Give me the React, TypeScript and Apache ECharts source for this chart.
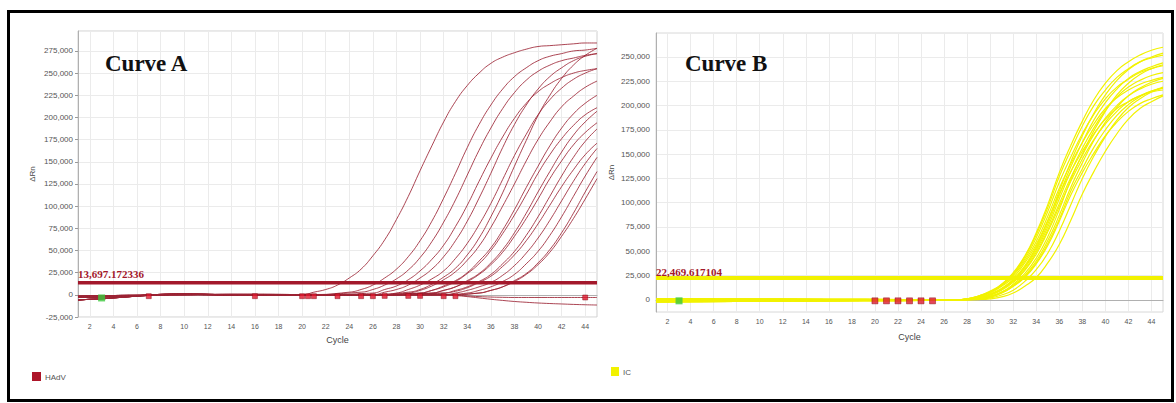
import React, { useEffect, useRef } from "react";
import * as echarts from "echarts";

// ---------- thresholds ----------
const THRESHOLD_A = 13697.172336;
const THRESHOLD_B = 22469.617104;
const THRESHOLD_A_LABEL = "13,697.172336";
const THRESHOLD_B_LABEL = "22,469.617104";
const CYCLE_MIN = 1;
const CYCLE_MAX = 45;

// ---------- Curve A (HAdV) ----------
const HADV_BASE_1 = [[1, -6000], [2, -5000], [3, -4500], [4, -3500], [5, -2500], [6, -1500], [8, 0], [10, 500], [14, -300], [20, 0], [26, 300], [32, 0]];
const HADV_BASE_2 = [[1, -3000], [2, -2800], [3, -2500], [4, -2000], [5, -1500], [6, -1000], [8, 500], [10, 1000], [14, 0], [20, -500], [26, 0], [32, -300]];
const HADV_BASE_3 = [[1, -1500], [2, -1200], [3, -1000], [4, -800], [5, -600], [6, -500], [8, -200], [10, 0], [14, 500], [20, 300], [26, -300], [32, 200]];

const HADV_01 = [[21, 3000], [22, 6000], [23, 11000], [24, 19000], [25, 29000], [26, 44000], [27, 62000], [28, 85000], [29, 111000], [30, 140000], [31, 168000], [32, 195000], [33, 218000], [34, 236000], [35, 250000], [36, 261000], [37, 268000], [38, 273000], [39, 277000], [40, 280000], [41, 281000], [42, 282000], [43, 283000], [44, 284000], [45, 284000]];
const HADV_02 = [[24, 3000], [25, 6000], [26, 11000], [27, 19000], [28, 29000], [29, 43000], [30, 61000], [31, 83000], [32, 109000], [33, 137000], [34, 166000], [35, 192000], [36, 214000], [37, 232000], [38, 246000], [39, 256000], [40, 264000], [41, 269000], [42, 272000], [43, 275000], [44, 276000], [45, 278000]];
const HADV_03 = [[25, 3000], [26, 6000], [27, 11000], [28, 18000], [29, 28000], [30, 42000], [31, 60000], [32, 82000], [33, 107000], [34, 135000], [35, 163000], [36, 188000], [37, 210000], [38, 228000], [39, 242000], [40, 252000], [41, 259000], [42, 264000], [43, 267000], [44, 270000], [45, 272000]];
const HADV_04 = [[26, 2000], [27, 6000], [28, 10000], [29, 17000], [30, 27000], [31, 40000], [32, 56000], [33, 77000], [34, 101000], [35, 128000], [36, 154000], [37, 178000], [38, 199000], [39, 216000], [40, 229000], [41, 238000], [42, 245000], [43, 250000], [44, 253000], [45, 255000]];
const HADV_05 = [[27, 3000], [28, 6000], [29, 11000], [30, 19000], [31, 29000], [32, 43000], [33, 61000], [34, 83000], [35, 109000], [36, 137000], [37, 166000], [38, 192000], [39, 214000], [40, 232000], [41, 246000], [42, 256000], [43, 264000], [44, 269000], [45, 272000]];
const HADV_06 = [[28, 2000], [29, 6000], [30, 11000], [31, 18000], [32, 27000], [33, 41000], [34, 58000], [35, 79000], [36, 103000], [37, 130000], [38, 157000], [39, 181000], [40, 203000], [41, 220000], [42, 233000], [43, 243000], [44, 250000], [45, 255000]];
const HADV_07 = [[29, 3000], [30, 6000], [31, 12000], [32, 20000], [33, 30000], [34, 45000], [35, 64000], [36, 88000], [37, 115000], [38, 145000], [39, 174000], [40, 202000], [41, 225000], [42, 244000], [43, 259000], [44, 270000], [45, 278000]];
const HADV_08 = [[29, 2000], [30, 5000], [31, 10000], [32, 17000], [33, 26000], [34, 39000], [35, 55000], [36, 76000], [37, 100000], [38, 125000], [39, 151000], [40, 175000], [41, 195000], [42, 212000], [43, 224000], [44, 234000], [45, 241000]];
const HADV_09 = [[30, 2000], [31, 5000], [32, 10000], [33, 16000], [34, 25000], [35, 38000], [36, 53000], [37, 73000], [38, 96000], [39, 121000], [40, 145000], [41, 168000], [42, 188000], [43, 204000], [44, 216000], [45, 225000]];
const HADV_10 = [[30, 2000], [31, 5000], [32, 9000], [33, 15000], [34, 24000], [35, 35000], [36, 50000], [37, 69000], [38, 90000], [39, 113000], [40, 137000], [41, 158000], [42, 176000], [43, 191000], [44, 203000], [45, 211000]];
const HADV_11 = [[31, 2000], [32, 5000], [33, 9000], [34, 16000], [35, 24000], [36, 36000], [37, 51000], [38, 70000], [39, 92000], [40, 116000], [41, 139000], [42, 161000], [43, 180000], [44, 195000], [45, 207000]];
const HADV_12 = [[31, 2000], [32, 5000], [33, 9000], [34, 15000], [35, 23000], [36, 34000], [37, 48000], [38, 66000], [39, 86000], [40, 108000], [41, 131000], [42, 151000], [43, 169000], [44, 183000], [45, 194000]];
const HADV_13 = [[32, 2000], [33, 5000], [34, 9000], [35, 15000], [36, 23000], [37, 35000], [38, 49000], [39, 67000], [40, 88000], [41, 111000], [42, 134000], [43, 155000], [44, 173000], [45, 187000]];
const HADV_14 = [[32, 2000], [33, 4000], [34, 8000], [35, 14000], [36, 21000], [37, 32000], [38, 45000], [39, 61000], [40, 80000], [41, 101000], [42, 122000], [43, 141000], [44, 158000], [45, 171000]];
const HADV_15 = [[33, 2000], [34, 5000], [35, 9000], [36, 14000], [37, 22000], [38, 33000], [39, 47000], [40, 64000], [41, 84000], [42, 106000], [43, 128000], [44, 148000], [45, 165000]];
const HADV_16 = [[34, 2000], [35, 5000], [36, 9000], [37, 15000], [38, 23000], [39, 35000], [40, 49000], [41, 67000], [42, 88000], [43, 111000], [44, 134000], [45, 155000]];
const HADV_17 = [[35, 2000], [36, 5000], [37, 9000], [38, 16000], [39, 24000], [40, 36000], [41, 51000], [42, 70000], [43, 92000], [44, 116000], [45, 139000]];
const HADV_18 = [[35, 2000], [36, 5000], [37, 9000], [38, 15000], [39, 23000], [40, 34000], [41, 48000], [42, 66000], [43, 86000], [44, 108000], [45, 131000]];
const HADV_NEG_1 = [[33, -300], [34, -1200], [35, -2000], [36, -2500], [37, -2800], [38, -3000], [40, -3000], [42, -3000], [45, -3000]];
const HADV_NEG_2 = [[33, -800], [34, -2000], [35, -3500], [36, -5000], [37, -6300], [38, -7500], [39, -8400], [40, -9200], [41, -9800], [42, -10300], [43, -10800], [44, -11200], [45, -11500]];

const HADV_CURVES = [HADV_01, HADV_02, HADV_03, HADV_04, HADV_05, HADV_06, HADV_07, HADV_08, HADV_09, HADV_10, HADV_11, HADV_12, HADV_13, HADV_14, HADV_15, HADV_16, HADV_17, HADV_18, HADV_NEG_1, HADV_NEG_2];
const HADV_BASES = [HADV_BASE_1, HADV_BASE_2, HADV_BASE_3];

const HADV_CT_MARKERS = [[7, -1500], [16, -1500], [20, -1500], [20.5, -1500], [21, -1500], [23, -1500], [25, -1500], [26, -1500], [27, -1200], [29, -1200], [30, -1200], [32, -1500], [33, -1500], [44, -3000]];
const HADV_START_MARKER = [[3, -3500]];

// ---------- Curve B (IC) ----------
const IC_BASE_1 = [[1, -500], [8, -300], [16, 0], [22, 0], [26, 0], [27, 0]];
const IC_BASE_2 = [[1, -2000], [8, -1500], [16, -1000], [22, -800], [26, -400], [27, -300]];
const IC_BASE_3 = [[1, 1000], [8, 800], [16, 500], [22, 300], [26, 200], [27, 200]];

const IC_01 = [[28, 1000], [29, 4000], [30, 9000], [31, 16000], [32, 28000], [33, 45000], [34, 69000], [35, 98000], [36, 131000], [37, 159000], [38, 184000], [39, 206000], [40, 223000], [41, 236000], [42, 245000], [43, 252000], [44, 257000], [45, 260000]];
const IC_02 = [[28, 1000], [29, 4000], [30, 8000], [31, 16000], [32, 27000], [33, 44000], [34, 67000], [35, 95000], [36, 127000], [37, 154000], [38, 179000], [39, 200000], [40, 216000], [41, 229000], [42, 238000], [43, 245000], [44, 249000], [45, 252000]];
const IC_03 = [[28, 500], [29, 2000], [30, 6000], [31, 12000], [32, 21000], [33, 35000], [34, 55000], [35, 81000], [36, 112000], [37, 142000], [38, 169000], [39, 192000], [40, 211000], [41, 226000], [42, 237000], [43, 245000], [44, 250000], [45, 254000]];
const IC_04 = [[28, 1000], [29, 4000], [30, 8000], [31, 15000], [32, 26000], [33, 42000], [34, 64000], [35, 91000], [36, 121000], [37, 147000], [38, 171000], [39, 191000], [40, 207000], [41, 219000], [42, 227000], [43, 234000], [44, 238000], [45, 241000]];
const IC_05 = [[28, 500], [29, 2000], [30, 6000], [31, 11000], [32, 20000], [33, 34000], [34, 53000], [35, 78000], [36, 108000], [37, 137000], [38, 162000], [39, 185000], [40, 203000], [41, 217000], [42, 228000], [43, 235000], [44, 240000], [45, 244000]];
const IC_06 = [[28, 500], [29, 2000], [30, 5000], [31, 11000], [32, 20000], [33, 33000], [34, 51000], [35, 75000], [36, 104000], [37, 132000], [38, 156000], [39, 177000], [40, 195000], [41, 209000], [42, 219000], [43, 226000], [44, 231000], [45, 234000]];
const IC_07 = [[28, 300], [29, 1000], [30, 4000], [31, 8000], [32, 16000], [33, 27000], [34, 43000], [35, 65000], [36, 93000], [37, 124000], [38, 150000], [39, 174000], [40, 194000], [41, 211000], [42, 223000], [43, 232000], [44, 238000], [45, 242000]];
const IC_08 = [[28, 1000], [29, 3000], [30, 8000], [31, 15000], [32, 25000], [33, 40000], [34, 60000], [35, 86000], [36, 115000], [37, 140000], [38, 162000], [39, 181000], [40, 197000], [41, 208000], [42, 216000], [43, 222000], [44, 226000], [45, 229000]];
const IC_09 = [[28, 500], [29, 2000], [30, 5000], [31, 11000], [32, 19000], [33, 31000], [34, 49000], [35, 72000], [36, 99000], [37, 126000], [38, 149000], [39, 170000], [40, 187000], [41, 200000], [42, 210000], [43, 217000], [44, 222000], [45, 225000]];
const IC_10 = [[28, 300], [29, 1000], [30, 3000], [31, 8000], [32, 15000], [33, 25000], [34, 40000], [35, 61000], [36, 87000], [37, 116000], [38, 141000], [39, 164000], [40, 183000], [41, 198000], [42, 210000], [43, 218000], [44, 224000], [45, 228000]];
const IC_11 = [[28, 500], [29, 2000], [30, 5000], [31, 10000], [32, 18000], [33, 30000], [34, 47000], [35, 70000], [36, 96000], [37, 122000], [38, 145000], [39, 165000], [40, 181000], [41, 194000], [42, 204000], [43, 210000], [44, 215000], [45, 218000]];
const IC_12 = [[28, 300], [29, 1000], [30, 3000], [31, 7000], [32, 14000], [33, 24000], [34, 38000], [35, 58000], [36, 83000], [37, 112000], [38, 135000], [39, 157000], [40, 175000], [41, 190000], [42, 201000], [43, 209000], [44, 215000], [45, 218000]];
const IC_13 = [[28, 1000], [29, 3000], [30, 7000], [31, 14000], [32, 23000], [33, 38000], [34, 57000], [35, 82000], [36, 109000], [37, 132000], [38, 153000], [39, 171000], [40, 186000], [41, 197000], [42, 204000], [43, 210000], [44, 214000], [45, 216000]];
const IC_14 = [[28, 300], [29, 1000], [30, 3000], [31, 7000], [32, 14000], [33, 23000], [34, 37000], [35, 56000], [36, 81000], [37, 108000], [38, 131000], [39, 151000], [40, 169000], [41, 183000], [42, 194000], [43, 202000], [44, 207000], [45, 211000]];
const IC_15 = [[29, 500], [30, 2000], [31, 5000], [32, 10000], [33, 19000], [34, 31000], [35, 48000], [36, 71000], [37, 98000], [38, 125000], [39, 148000], [40, 168000], [41, 185000], [42, 198000], [43, 207000], [44, 214000], [45, 219000]];
const IC_16 = [[29, 300], [30, 1000], [31, 3000], [32, 7000], [33, 14000], [34, 23000], [35, 38000], [36, 57000], [37, 82000], [38, 109000], [39, 132000], [40, 153000], [41, 171000], [42, 186000], [43, 197000], [44, 204000], [45, 210000]];

const IC_CURVES = [IC_01, IC_02, IC_03, IC_04, IC_05, IC_06, IC_07, IC_08, IC_09, IC_10, IC_11, IC_12, IC_13, IC_14, IC_15, IC_16];
const IC_BASES = [IC_BASE_1, IC_BASE_2, IC_BASE_3];

const IC_CT_MARKERS = [[20, -1000], [21, -1000], [22, -1000], [23, -1000], [24, -1000], [25, -1000]];
const IC_START_MARKER = [[3, -1000]];

// ---------- styling ----------
const HADV_COLOR = "#9c2435";
const HADV_LEGEND = "#ad1529";
const IC_COLOR = "#f2f200";
const LABEL_COLOR = "#555";
const SANS = "'Liberation Sans', Arial, sans-serif";
const SERIF = "'Liberation Serif', 'Times New Roman', serif";

function withBase(base: number[][], rise: number[][]) {
  const first = rise[0][0];
  return base.filter((p) => p[0] < first).concat(rise);
}

const fmt = (v: number) => v.toLocaleString("en-US");

function buildOption() {
  const series: any[] = [];
  HADV_CURVES.forEach((c, i) => {
    series.push({
      type: "line",
      name: "HAdV",
      xAxisIndex: 0,
      yAxisIndex: 0,
      data: withBase(HADV_BASES[i % 3], c),
      showSymbol: false,
      smooth: 0.5,
      silent: true,
      lineStyle: { color: HADV_COLOR, width: 1, opacity: 0.85 },
      itemStyle: { color: HADV_LEGEND },
    });
  });
  series.push({
    type: "line",
    name: "thresholdA",
    xAxisIndex: 0,
    yAxisIndex: 0,
    data: [[CYCLE_MIN, THRESHOLD_A], [CYCLE_MAX, THRESHOLD_A]],
    showSymbol: false,
    silent: true,
    lineStyle: { color: "#a3182b", width: 3.5 },
    z: 5,
  });
  series.push({
    type: "scatter",
    name: "ctA",
    xAxisIndex: 0,
    yAxisIndex: 0,
    data: HADV_CT_MARKERS,
    symbol: "rect",
    symbolSize: 5,
    silent: true,
    itemStyle: { color: "#e0182e", borderColor: "#8a0c18", borderWidth: 0.6 },
    z: 6,
  });
  series.push({
    type: "scatter",
    name: "startA",
    xAxisIndex: 0,
    yAxisIndex: 0,
    data: HADV_START_MARKER,
    symbol: "rect",
    symbolSize: 7,
    silent: true,
    itemStyle: { color: "#3cc83c" },
    z: 6,
  });

  IC_CURVES.forEach((c, i) => {
    series.push({
      type: "line",
      name: "IC",
      xAxisIndex: 1,
      yAxisIndex: 1,
      data: withBase(IC_BASES[i % 3], c),
      showSymbol: false,
      smooth: 0.5,
      silent: true,
      lineStyle: { color: IC_COLOR, width: 1.2 },
      itemStyle: { color: IC_COLOR },
    });
  });
  series.push({
    type: "line",
    name: "thresholdB",
    xAxisIndex: 1,
    yAxisIndex: 1,
    data: [[CYCLE_MIN, THRESHOLD_B], [CYCLE_MAX, THRESHOLD_B]],
    showSymbol: false,
    silent: true,
    lineStyle: { color: IC_COLOR, width: 4 },
    z: 5,
  });
  series.push({
    type: "scatter",
    name: "ctB",
    xAxisIndex: 1,
    yAxisIndex: 1,
    data: IC_CT_MARKERS,
    symbol: "rect",
    symbolSize: 6,
    silent: true,
    itemStyle: { color: "#e0182e", borderColor: "#8a0c18", borderWidth: 0.6 },
    z: 6,
  });
  series.push({
    type: "scatter",
    name: "startB",
    xAxisIndex: 1,
    yAxisIndex: 1,
    data: IC_START_MARKER,
    symbol: "rect",
    symbolSize: 7,
    silent: true,
    itemStyle: { color: "#3cc83c" },
    z: 6,
  });

  const xAxisCommon = {
    type: "value",
    min: CYCLE_MIN,
    max: CYCLE_MAX,
    interval: 1,
    name: "Cycle",
    nameLocation: "middle",
    nameGap: 18,
    nameTextStyle: { fontSize: 9, color: "#444", fontFamily: SANS },
    axisLine: { lineStyle: { color: "#b0b0b0" } },
    axisTick: { show: false },
    axisLabel: {
      fontSize: 7,
      color: LABEL_COLOR,
      fontFamily: SANS,
      margin: 6,
      formatter: (v: number) => (v % 2 === 0 ? String(v) : ""),
    },
    splitLine: { show: true, lineStyle: { color: ["rgba(0,0,0,0)", "#ebebeb"], width: 1 } },
  };

  return {
    animation: false,
    textStyle: { fontFamily: SANS },
    grid: [
      { left: 78, top: 31, width: 519, height: 286, show: true, borderColor: "#d0d0d0", borderWidth: 1 },
      { left: 656, top: 33, width: 507, height: 279, show: true, borderColor: "#d8d8d8", borderWidth: 1 },
    ],
    xAxis: [
      { ...xAxisCommon, gridIndex: 0 },
      { ...xAxisCommon, gridIndex: 1, nameGap: 20 },
    ],
    yAxis: [
      {
        type: "value",
        gridIndex: 0,
        min: -25000,
        max: 297500,
        interval: 25000,
        name: "ΔRn",
        nameLocation: "middle",
        nameGap: 42,
        nameTextStyle: { fontSize: 8, color: "#444", fontFamily: SANS },
        axisLine: { show: true, lineStyle: { color: "#b0b0b0" } },
        axisTick: { show: true, length: 3, lineStyle: { color: "#999" } },
        axisLabel: { fontSize: 8, color: LABEL_COLOR, fontFamily: SANS, margin: 5, showMaxLabel: false, formatter: fmt },
        splitLine: { show: true, lineStyle: { color: "#ebebeb", width: 1 } },
      },
      {
        type: "value",
        gridIndex: 1,
        min: -12500,
        max: 274700,
        interval: 12500,
        name: "ΔRn",
        nameLocation: "middle",
        nameGap: 41,
        nameTextStyle: { fontSize: 8, color: "#444", fontFamily: SANS },
        axisLine: { show: true, lineStyle: { color: "#b0b0b0" } },
        axisTick: { show: false },
        axisLabel: {
          fontSize: 8,
          color: LABEL_COLOR,
          fontFamily: SANS,
          margin: 6,
          showMaxLabel: false,
          showMinLabel: false,
          formatter: (v: number) => (v % 25000 === 0 ? fmt(v) : ""),
        },
        splitLine: { show: true, lineStyle: { color: ["rgba(0,0,0,0)", "#ebebeb"], width: 1 } },
      },
    ],
    series,
    graphic: [
      // outer frame
      { type: "rect", shape: { x: 8.5, y: 11.5, width: 1164, height: 389 }, style: { fill: "none", stroke: "#000", lineWidth: 3 }, silent: true, z: 100 },
      // titles
      { type: "text", x: 105, y: 63, style: { text: "Curve A", font: `bold 23px ${SERIF}`, fill: "#111", verticalAlign: "middle" }, z: 50 },
      { type: "text", x: 685, y: 63, style: { text: "Curve B", font: `bold 23px ${SERIF}`, fill: "#111", verticalAlign: "middle" }, z: 50 },
      // threshold labels
      { type: "text", x: 78, y: 279, style: { text: THRESHOLD_A_LABEL, font: `bold 11px ${SERIF}`, fill: "#a3182b", verticalAlign: "bottom" }, z: 50 },
      { type: "text", x: 656, y: 277, style: { text: THRESHOLD_B_LABEL, font: `bold 11px ${SERIF}`, fill: "#a3182b", verticalAlign: "bottom" }, z: 50 },
      // legends
      { type: "rect", shape: { x: 32, y: 372, width: 9, height: 9 }, style: { fill: HADV_LEGEND }, z: 50 },
      { type: "text", x: 45, y: 377, style: { text: "HAdV", font: `8px ${SANS}`, fill: "#555", verticalAlign: "middle" }, z: 50 },
      { type: "rect", shape: { x: 611, y: 367, width: 8, height: 9 }, style: { fill: IC_COLOR }, z: 50 },
      { type: "text", x: 623, y: 372, style: { text: "IC", font: `8px ${SANS}`, fill: "#555", verticalAlign: "middle" }, z: 50 },
    ],
  };
}

export default function App() {
  const ref = useRef<HTMLDivElement>(null);
  useEffect(() => {
    if (!ref.current) return;
    const chart = echarts.init(ref.current, null, { renderer: "svg" });
    chart.setOption(buildOption() as any);
    return () => chart.dispose();
  }, []);
  return (
    <div
      ref={ref}
      style={{ position: "absolute", left: 0, top: 0, width: 1176, height: 403, background: "#fff" }}
    />
  );
}
